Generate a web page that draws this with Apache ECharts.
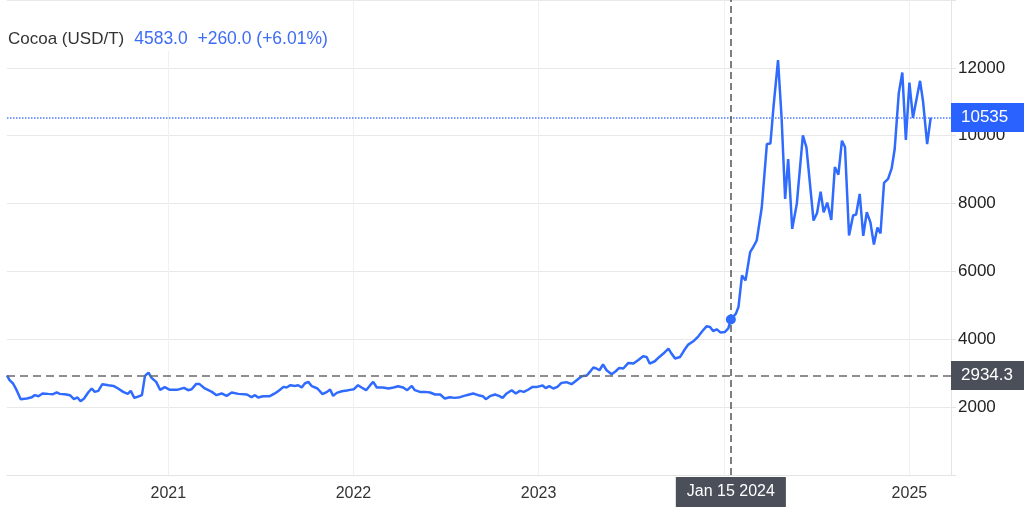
<!DOCTYPE html>
<html><head><meta charset="utf-8">
<script src="https://cdn.jsdelivr.net/npm/echarts@6/dist/echarts.min.js"></script>
<style>html,body{margin:0;padding:0;background:#fff}#c{width:1024px;height:510px}</style>
</head><body><div id="c"></div>
<script>
const dates = [
'2020-02-18','2020-02-23','2020-03-01','2020-03-08','2020-03-16','2020-03-28','2020-04-07','2020-04-13','2020-04-20','2020-04-28',
'2020-05-09','2020-05-19','2020-05-26','2020-06-01','2020-06-11','2020-06-21','2020-06-29','2020-07-06','2020-07-12','2020-07-19',
'2020-07-27','2020-08-03','2020-08-09','2020-08-16','2020-08-24','2020-09-05','2020-09-15','2020-09-24','2020-10-04','2020-10-13',
'2020-10-19','2020-10-26','2020-11-03','2020-11-10','2020-11-16','2020-11-23','2020-11-29','2020-12-08','2020-12-16','2020-12-25',
'2021-01-04','2021-01-18','2021-02-01','2021-02-09','2021-02-16','2021-02-25','2021-03-03','2021-03-14','2021-03-28','2021-04-06',
'2021-04-16','2021-04-26','2021-05-06','2021-05-19','2021-06-05','2021-06-14','2021-06-21','2021-06-27','2021-07-07','2021-07-20',
'2021-07-30','2021-08-08','2021-08-16','2021-08-22','2021-08-30','2021-09-08','2021-09-14','2021-09-21','2021-09-27','2021-10-04',
'2021-10-11','2021-10-22','2021-11-01','2021-11-10','2021-11-16','2021-11-22','2021-11-29','2021-12-09','2021-12-19','2021-12-25',
'2022-01-02','2022-01-10','2022-01-17','2022-01-26','2022-02-03','2022-02-09','2022-02-16','2022-02-28','2022-03-11','2022-03-21',
'2022-03-30','2022-04-09','2022-04-17','2022-04-26','2022-05-02','2022-05-12','2022-05-22','2022-06-01','2022-06-11','2022-06-21',
'2022-06-30','2022-07-10','2022-07-20','2022-07-30','2022-08-12','2022-08-25','2022-09-04','2022-09-13','2022-09-19','2022-09-27',
'2022-10-07','2022-10-15','2022-10-22','2022-10-30','2022-11-09','2022-11-17','2022-11-25','2022-12-03','2022-12-12','2022-12-20',
'2022-12-29','2023-01-09','2023-01-15','2023-01-22','2023-01-30','2023-02-07','2023-02-15','2023-02-25','2023-03-07','2023-03-17',
'2023-03-27','2023-04-06','2023-04-12','2023-04-19','2023-04-25','2023-05-01','2023-05-08','2023-05-15','2023-05-25','2023-06-02',
'2023-06-09','2023-06-17','2023-06-27','2023-07-07','2023-07-16','2023-07-26','2023-08-02','2023-08-08','2023-08-18','2023-08-27',
'2023-09-04','2023-09-14','2023-09-20','2023-09-27','2023-10-07','2023-10-15','2023-10-23','2023-11-02','2023-11-12','2023-11-20',
'2023-11-28','2023-12-05','2023-12-11','2023-12-18','2023-12-26','2024-01-03','2024-01-10','2024-01-15','2024-01-25','2024-01-30',
'2024-02-06','2024-02-13','2024-02-22','2024-02-28','2024-03-06','2024-03-16','2024-03-26','2024-04-02','2024-04-08','2024-04-17',
'2024-04-24','2024-05-01','2024-05-07','2024-05-15','2024-05-24','2024-06-05','2024-06-12','2024-06-26','2024-07-03','2024-07-10',
'2024-07-16','2024-07-23','2024-07-31','2024-08-07','2024-08-14','2024-08-21','2024-08-27','2024-09-04','2024-09-12','2024-09-18',
'2024-09-25','2024-10-02','2024-10-09','2024-10-16','2024-10-23','2024-10-30','2024-11-05','2024-11-12','2024-11-20','2024-11-27',
'2024-12-03','2024-12-11','2024-12-18','2024-12-25','2025-01-01','2025-01-08','2025-01-22','2025-01-28','2025-02-05','2025-02-12'
];
const prices = [
2934,2794,2697,2500,2235,2256,2294,2353,2323,2403,
2391,2382,2432,2391,2382,2353,2235,2285,2176,2256,
2432,2550,2450,2479,2676,2647,2626,2550,2450,2391,
2479,2273,2315,2353,2920,3020,2862,2744,2509,2588,
2509,2509,2568,2500,2529,2685,2685,2550,2450,2353,
2403,2332,2432,2391,2373,2294,2353,2285,2323,2323,
2403,2500,2597,2579,2647,2626,2647,2579,2697,2744,
2617,2550,2382,2450,2520,2332,2420,2470,2491,2509,
2529,2647,2579,2500,2647,2744,2579,2579,2550,2579,
2617,2579,2500,2626,2500,2450,2450,2432,2373,2373,
2256,2294,2273,2294,2353,2403,2353,2323,2235,2323,
2373,2332,2273,2403,2500,2403,2479,2450,2520,2597,
2597,2638,2559,2617,2550,2597,2715,2735,2676,2794,
2912,2932,3038,3167,3138,3088,3256,3088,2970,3059,
3156,3138,3303,3285,3382,3500,3479,3285,3353,3479,
3579,3726,3579,3432,3479,3676,3844,3941,4088,4244,
4382,4362,4244,4294,4197,4214,4323,4583,4756,4950,
5882,5735,6567,6714,6911,7891,9755,9773,10832,12226,
10538,8138,9314,7255,7991,10008,9655,7500,7720,8352,
7744,8029,7520,9079,8852,9852,9667,7058,7647,7676,
8285,7050,7744,7455,6794,7294,7117,8611,8726,9035,
9608,11249,11861,9873,11567,10529,11617,11000,9755,10535
];
const yearTicks = ['2021-01-01','2022-01-01','2023-01-01','2024-01-01','2025-01-01'];
const xRange = ['2020-02-18','2025-03-24'];
const yTicks = [0,2000,4000,6000,8000,10000,12000,14000];
const refPrice = 2934.3;
const lastPrice = 10535;
const hoverDate = '2024-01-15';
const hoverLabel = 'Jan 15 2024';
const hoverPrice = 4583.0;
const hoverChange = 260.0;
const hoverPct = 6.01;
const titleName = 'Cocoa (USD/T)';

const ts = s => { const p = s.split('-').map(Number); return Date.UTC(p[0], p[1]-1, p[2]); };
const FONT = '"Liberation Sans", Arial, sans-serif';
const BLUE = '#2f6bff';
const DARK = '#4a4f59';

const chart = echarts.init(document.getElementById('c'), null, {renderer:'canvas'});
chart.setOption({
  animation: false,
  textStyle: {fontFamily: FONT},
  title: {
    left: 0, top: 0,
    padding: [29, 12, 3, 8],
    backgroundColor: '#fff',
    text: '{a|' + titleName + '}  {b|' + hoverPrice.toFixed(1) + '  +' + hoverChange.toFixed(1) + ' (+' + hoverPct.toFixed(2) + '%)}',
    textStyle: {fontWeight: 'normal', rich: {
      a: {fontSize: 17, color: '#333', fontFamily: FONT, fontWeight: 'normal', lineHeight: 20},
      b: {fontSize: 17.5, color: '#3d6cf5', fontFamily: FONT, fontWeight: 'normal', lineHeight: 20}
    }}
  },
  grid: {left: 7, right: 73, top: 0, bottom: 35},
  xAxis: {
    type: 'value', min: ts(xRange[0]), max: ts(xRange[1]),
    axisLine: {show: true, onZero: false, lineStyle: {color: '#e4e4e4'}},
    axisTick: {show: false, customValues: yearTicks.map(ts)},
    axisLabel: {customValues: yearTicks.map(ts), formatter: v => String(new Date(v).getUTCFullYear()),
      color: '#333', fontSize: 16, margin: 11, fontFamily: FONT},
    splitLine: {show: true, lineStyle: {color: '#edf1f6', width: 1}}
  },
  yAxis: {
    type: 'value', position: 'right', min: yTicks[0], max: yTicks[yTicks.length-1], interval: 2000,
    axisLine: {show: true, lineStyle: {color: '#e4e4e4'}},
    axisTick: {show: true, length: 5, lineStyle: {color: '#e4e4e4'}},
    axisLabel: {color: '#222', fontSize: 17, margin: 7, fontFamily: FONT,
      formatter: v => (v === yTicks[0] || v === yTicks[yTicks.length-1]) ? '' : String(v)},
    splitLine: {show: true, lineStyle: {color: '#e8e8e8'}}
  },
  series: [{
    type: 'line',
    data: dates.map((d, i) => [ts(d), prices[i]]),
    showSymbol: false, symbol: 'none',
    lineStyle: {color: BLUE, width: 2.5}, itemStyle: {color: BLUE},
    z: 3,
    markLine: {
      symbol: ['none', 'none'], silent: true, animation: false,
      data: [
        {yAxis: refPrice, lineStyle: {color: '#6a6a6a', type: [8, 5], width: 1.5},
         label: {show: true, position: 'end', formatter: refPrice.toFixed(1), backgroundColor: DARK, color: '#fff',
                 fontSize: 17, fontFamily: FONT, padding: [6, 20, 6, 10], distance: 0}},
        {yAxis: lastPrice, lineStyle: {color: '#4d7bff', type: [1.5, 1.5], width: 1.5},
         label: {show: true, position: 'end', formatter: String(lastPrice), backgroundColor: '#2962ff', color: '#fff',
                 fontSize: 17, fontFamily: FONT, padding: [6, 20, 6, 10], distance: 0}},
        {xAxis: ts(hoverDate), lineStyle: {color: '#555', type: [7, 4], width: 1.5},
         label: {show: true, position: 'start', formatter: hoverLabel, backgroundColor: DARK, color: '#fff',
                 fontSize: 16, fontFamily: FONT, padding: [7, 11, 7, 11], distance: 2}}
      ]
    },
    markPoint: {
      symbol: 'circle', symbolSize: 10, silent: true, animation: false,
      itemStyle: {color: BLUE}, label: {show: false},
      data: [{coord: [ts(hoverDate), hoverPrice]}]
    }
  }]
});
</script>
</body></html>
